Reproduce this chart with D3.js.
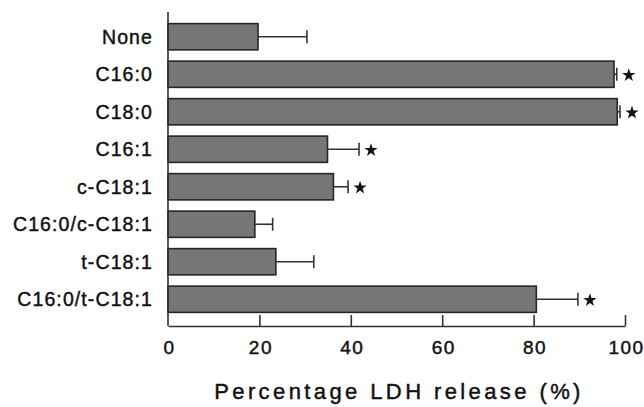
<!DOCTYPE html>
<html><head><meta charset="utf-8">
<script src="https://cdn.jsdelivr.net/npm/d3@7"></script>
<style>body{margin:0;background:#fff}svg{display:block}text{font-family:"Liberation Sans",Arial,sans-serif;fill:#111;stroke:#111;stroke-width:0.45px}</style>
</head><body><svg id="c" width="644" height="407"></svg>
<script>
const categories = ["None","C16:0","C18:0","C16:1","c-C18:1","C16:0/c-C18:1","t-C18:1","C16:0/t-C18:1"];
const values = [19.7, 97.6, 98.3, 34.9, 36.2, 19.0, 23.6, 80.6];
const errors = [10.7, 0.6, 0.6, 6.9, 3.2, 3.9, 8.3, 9.1];
const significant = [false, true, true, true, true, false, false, true];
const xTicks = [0, 20, 40, 60, 80, 100];
const xTitle = "Percentage LDH release (%)";

const svg = d3.select("#c");
const x = d3.scaleLinear().domain([0,100]).range([168,625]);
const y = d3.scaleBand().domain(categories).range([18,318]).paddingInner(0.3).paddingOuter(0.15);
const axisY = 326;

// bars
svg.selectAll("rect.bar").data(categories).join("rect")
  .attr("x", x(0)).attr("y", d=>y(d))
  .attr("width", (d,i)=>x(values[i])-x(0)).attr("height", y.bandwidth())
  .attr("fill","#767676").attr("stroke","#262626").attr("stroke-width",1.6);

// error bars
const eg = svg.append("g").attr("stroke","#333").attr("stroke-width",1.6);
categories.forEach((c,i)=>{
  const cy = y(c)+y.bandwidth()/2;
  const x1 = x(values[i]), x2 = x(values[i]+errors[i]);
  eg.append("line").attr("x1",x1).attr("x2",x2).attr("y1",cy).attr("y2",cy);
  eg.append("line").attr("x1",x2).attr("x2",x2).attr("y1",cy-6.5).attr("y2",cy+6.5);
  if (significant[i]) {
    svg.append("path").attr("d", d3.symbol(d3.symbolStar, 55)())
      .attr("transform",`translate(${x2+12},${cy+1})`).attr("fill","#111");
  }
});

// y axis line
svg.append("line").attr("x1",x(0)).attr("x2",x(0)).attr("y1",12).attr("y2",axisY)
  .attr("stroke","#333").attr("stroke-width",1.6);

// x axis
const xa = d3.axisBottom(x).tickValues(xTicks).tickSize(-11).tickSizeOuter(0).tickFormat(d3.format("d"));
const gx = svg.append("g").attr("transform",`translate(0,${axisY})`).call(xa);
gx.select(".domain").attr("stroke","#333").attr("stroke-width",1.6);
gx.selectAll(".tick line").attr("stroke","#333").attr("stroke-width",1.6);
gx.selectAll(".tick").filter(d=>d===0).select("line").remove();
gx.selectAll(".tick text").attr("y",22).attr("dy","0.32em").attr("dx","1px")
  .style("font-size","19px").style("letter-spacing","1.5px")
  .style("font-family","'Liberation Sans',Arial,sans-serif").attr("fill","#111");

// category labels
svg.selectAll("text.cat").data(categories).join("text")
  .attr("class","cat")
  .attr("x",153).attr("y",d=>y(d)+y.bandwidth()/2).attr("dy","0.36em")
  .attr("text-anchor","end").style("font-size","19.5px").style("letter-spacing","1.1px")
  .text(d=>d);

// title
svg.append("text").attr("x",399).attr("y",399).attr("text-anchor","middle")
  .style("font-size","22px").style("letter-spacing","3.4px").text(xTitle);
</script></body></html>
